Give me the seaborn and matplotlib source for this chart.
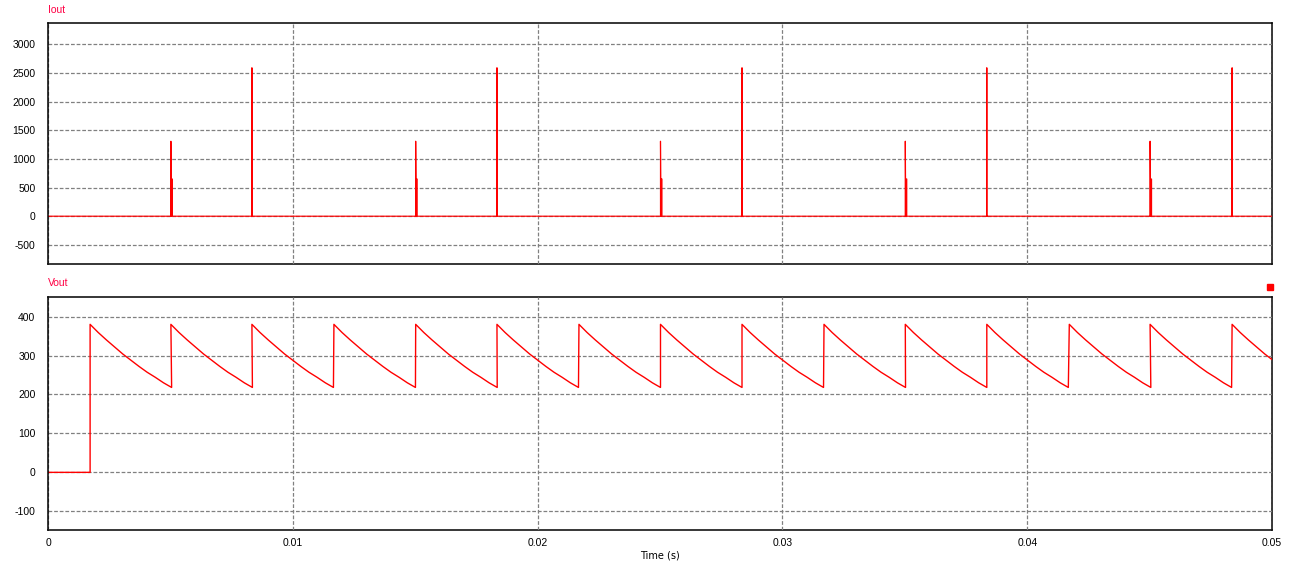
import numpy as np
import pandas as pd
import matplotlib
matplotlib.use("Agg")
import matplotlib.pyplot as plt
from matplotlib.patches import Rectangle
import seaborn as sns

# ---- data ----
# Iout: narrow current pulses (s, A)
small_spike_times = [0.00502, 0.01502, 0.02502, 0.03502, 0.04502]
small_spike_peak = 1310
small_spike_plateau = 650
small_spike_width = 0.00006
large_spike_times = [0.00833, 0.01834, 0.02835, 0.03835, 0.04837]
large_spike_peak = 2590

# Vout: capacitor recharges at these instants, then decays
charge_times = [0.00172, 0.00502, 0.00833, 0.01168, 0.01502, 0.01834, 0.02169,
                0.02502, 0.02835, 0.03170, 0.03502, 0.03835, 0.04172, 0.04502,
                0.04837]
cycle_period = 0.00333
decay_frac = [0.0, 0.1, 0.2, 0.3, 0.4, 0.5, 0.6, 0.7, 0.8, 0.9, 1.0]
decay_volts = [380, 359, 340, 322, 304, 288, 272, 257, 244, 230, 218]

iout_yticks = [-500, 0, 500, 1000, 1500, 2000, 2500, 3000]
vout_yticks = [-100, 0, 100, 200, 300, 400]
xticks = [0, 0.01, 0.02, 0.03, 0.04, 0.05]
xtick_labels = ["0", "0.01", "0.02", "0.03", "0.04", "0.05"]

# ---- build waveforms ----
ti, vi = [0.0], [0.0]
events = sorted([(t, "s") for t in small_spike_times] + [(t, "l") for t in large_spike_times])
for t, kind in events:
    if kind == "s":
        # thin tip, then a short flat shoulder drawn as a filled-looking pulse
        ti += [t, t, t + 0.00001, t + 0.00001, t + 0.00003, t + 0.00003,
               t + small_spike_width, t + small_spike_width]
        vi += [0, small_spike_peak, small_spike_plateau, 0, 0, small_spike_plateau,
               small_spike_plateau, 0]
    else:
        ti += [t, t, t]
        vi += [0, large_spike_peak, 0]
ti.append(0.05)
vi.append(0.0)
iout = pd.DataFrame({"t": ti, "v": vi})

tv, vv = [0.0, charge_times[0]], [0.0, 0.0]
for tc in charge_times:
    for f, v in zip(decay_frac, decay_volts):
        tv.append(tc + f * cycle_period)
        vv.append(v)
vout = pd.DataFrame({"t": tv, "v": vv})

# ---- plot ----
sns.set_style("white")
plt.rcParams["font.family"] = ["Liberation Sans", "DejaVu Sans"]

fig = plt.figure(figsize=(12.96, 5.69), dpi=100)
ax1 = fig.add_axes([48 / 1296, 1 - 264.3 / 569, 1224 / 1296, 241 / 569])
ax2 = fig.add_axes([48 / 1296, 1 - 530 / 569, 1224 / 1296, 233.3 / 569])

red = "#ff0000"
sns.lineplot(data=iout, x="t", y="v", ax=ax1, color=red, lw=0.85, sort=False,
             estimator=None, zorder=3)
sns.lineplot(data=vout, x="t", y="v", ax=ax2, color=red, lw=1.0, sort=False,
             estimator=None, zorder=3)

for ax, yt in ((ax1, iout_yticks), (ax2, vout_yticks)):
    ax.set_xlim(0, 0.05)
    ax.set_xticks(xticks)
    ax.set_yticks(yt)
    ax.set_yticklabels([str(v) for v in yt], fontsize=7.5)
    ax.set_axisbelow(False)
    ax.grid(True, color="#808080", lw=0.9, linestyle=(0, (3, 1.5)), zorder=2.5)
    ax.tick_params(length=0, pad=9, labelcolor="black")
    ax.set_xlabel("")
    ax.set_ylabel("")
    for s in ax.spines.values():
        s.set_color("black")
        s.set_linewidth(1.1)
        s.set_zorder(2.4)
    ax.spines["left"].set_zorder(3.5)

ax1.set_ylim(-840, 3370)
ax2.set_ylim(-148, 451)
ax1.set_xticklabels([])
ax2.set_xticklabels(xtick_labels, fontsize=7.5)
ax2.tick_params(axis="x", pad=6)

fig.text(48 / 1296, 1 - 10 / 569, "Iout", color="#ff0044", fontsize=7.5, va="center", ha="left")
fig.text(48 / 1296, 1 - 283 / 569, "Vout", color="#ff0044", fontsize=7.5, va="center", ha="left")
fig.text(660 / 1296, 1 - 555 / 569, "Time (s)", fontsize=7, family="DejaVu Sans",
         color="black", va="center", ha="center")
fig.patches.append(Rectangle((1267 / 1296, 1 - 290 / 569), 6 / 1296, 6 / 569,
                             transform=fig.transFigure, color=red, figure=fig))

fig.savefig("out.png", dpi=100)
